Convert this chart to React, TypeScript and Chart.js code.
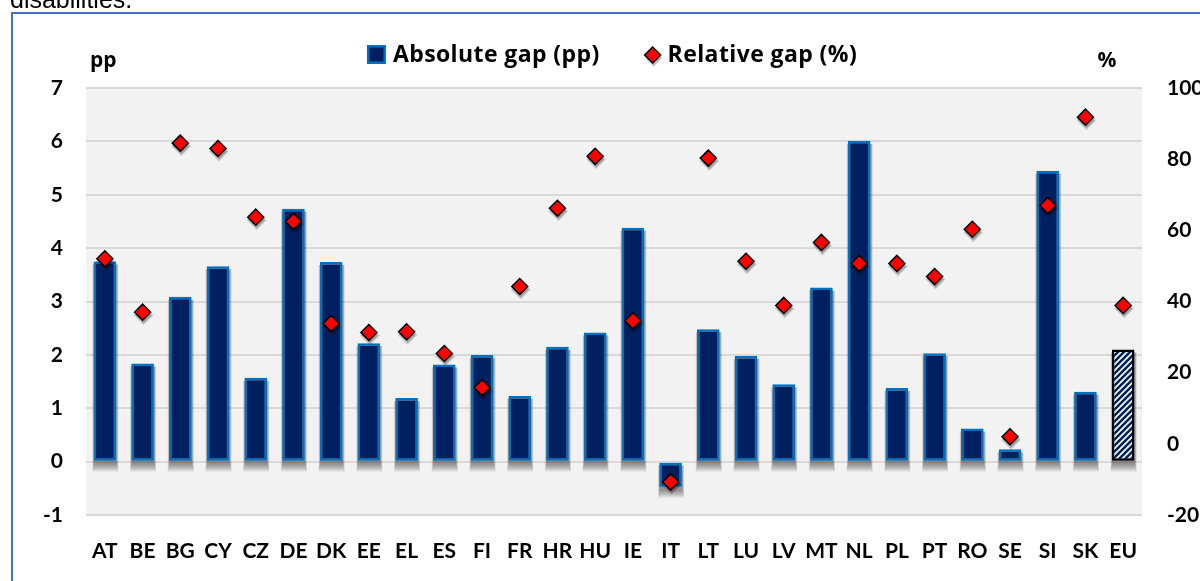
import React, { useEffect, useRef } from 'react';
import { Chart, registerables } from 'chart.js';

Chart.register(...registerables);

const categories = ['AT', 'BE', 'BG', 'CY', 'CZ', 'DE', 'DK', 'EE', 'EL', 'ES', 'FI', 'FR', 'HR', 'HU', 'IE', 'IT', 'LT', 'LU', 'LV', 'MT', 'NL', 'PL', 'PT', 'RO', 'SE', 'SI', 'SK', 'EU'];
const absoluteGap = [3.75, 1.84, 3.09, 3.66, 1.57, 4.74, 3.74, 2.22, 1.19, 1.82, 2.0, 1.23, 2.15, 2.42, 4.38, -0.47, 2.48, 1.98, 1.45, 3.26, 6.01, 1.38, 2.03, 0.62, 0.23, 5.45, 1.31, 2.1];
const relativeGap = [52.0, 37.0, 84.5, 83.0, 63.7, 62.5, 33.8, 31.3, 31.5, 25.4, 15.8, 44.2, 66.2, 80.8, 34.6, -10.7, 80.3, 51.3, 38.9, 56.6, 50.7, 50.7, 47.0, 60.3, 2.0, 67.0, 91.8, 38.9];
const leftRange = [-1, 7];
const rightRange = [-20, 100];
const seriesNames = ['Absolute gap (pp)', 'Relative gap (%)'];

const NAVY = '#002060';
const BLUE = '#0070C0';
const FONT = 'Lato, "Open Sans", sans-serif';
const LEGEND_FONT = '"Open Sans", Lato, sans-serif';

function makeHatch(): CanvasPattern | string {
  const c = document.createElement('canvas');
  c.width = 6;
  c.height = 6;
  const g = c.getContext('2d');
  if (!g) return NAVY;
  g.fillStyle = '#ffffff';
  g.fillRect(0, 0, 6, 6);
  g.strokeStyle = NAVY;
  g.lineWidth = 2.6;
  g.beginPath();
  g.moveTo(-1, 7); g.lineTo(7, -1);
  g.moveTo(-4, 4); g.lineTo(4, -4);
  g.moveTo(2, 10); g.lineTo(10, 2);
  g.stroke();
  return g.createPattern(c, 'repeat') || NAVY;
}

function diamond(ctx: CanvasRenderingContext2D, x: number, y: number, r: number) {
  ctx.beginPath();
  ctx.moveTo(x, y - r);
  ctx.lineTo(x + r, y);
  ctx.lineTo(x, y + r);
  ctx.lineTo(x - r, y);
  ctx.closePath();
}

const decorPlugin = {
  id: 'decor',
  beforeDraw(chart: any) {
    const { ctx, chartArea } = chart;
    ctx.save();
    ctx.fillStyle = '#ffffff';
    ctx.fillRect(0, 0, chart.width, chart.height);
    ctx.fillStyle = '#F2F2F2';
    ctx.fillRect(chartArea.left, chartArea.top, chartArea.right - chartArea.left, chartArea.bottom - chartArea.top);
    ctx.restore();
  },
  beforeDatasetDraw(chart: any, args: any) {
    const { ctx } = chart;
    ctx.save();
    if (args.index === 0) {
      const meta = chart.getDatasetMeta(0);
      meta.data.forEach((bar: any) => {
        const w = bar.width;
        const top = Math.min(bar.y, bar.base);
        const h = Math.abs(bar.base - bar.y);
        for (let k = 0; k <= 5; k++) {
          ctx.fillStyle = 'rgba(0,0,0,0.08)';
          const ex = k * 0.35;
          ctx.fillRect(bar.x - w / 2 + 0.5 - ex, top + 3, w + 2 * ex, h + 1 + k * 1.4);
        }
      });
    } else {
      const meta = chart.getDatasetMeta(args.index);
      meta.data.forEach((pt: any) => {
        for (let k = 0; k <= 4; k++) {
          ctx.fillStyle = 'rgba(0,0,0,0.09)';
          diamond(ctx, pt.x + 1, pt.y + 3, 7 + k * 0.8);
          ctx.fill();
        }
      });
    }
    ctx.restore();
  },
  afterDraw(chart: any) {
    const { ctx, chartArea } = chart;
    ctx.save();
    ctx.fillStyle = '#000';
    ctx.textBaseline = 'middle';
    ctx.font = `bold 21px ${LEGEND_FONT}`;
    ctx.textAlign = 'left';
    ctx.fillText('pp', chartArea.left + 4, 61);
    ctx.textAlign = 'center';
    ctx.fillText('%', chartArea.right - 35, 61);

    // legend
    const cy = 55;
    ctx.font = `bold 23px ${LEGEND_FONT}`;
    (ctx as any).letterSpacing = '0.4px';
    ctx.textAlign = 'left';
    const t1 = seriesNames[0];
    const t2 = seriesNames[1];
    const w1 = ctx.measureText(t1).width;
    const w2 = ctx.measureText(t2).width;
    const total = 19 + 7 + w1 + 45 + 16 + 7 + w2;
    let x = (chartArea.left + chartArea.right) / 2 - total / 2 - 2;
    ctx.fillStyle = BLUE;
    ctx.fillRect(x, cy - 10, 19, 19);
    ctx.fillStyle = NAVY;
    ctx.fillRect(x + 2.5, cy - 7.5, 14, 14);
    x += 19 + 7;
    ctx.fillStyle = '#000';
    ctx.fillText(t1, x, cy);
    x += w1 + 45 + 8;
    for (let k = 0; k <= 3; k++) {
      ctx.fillStyle = 'rgba(0,0,0,0.09)';
      diamond(ctx, x + 1, cy + 3, 7 + k * 0.8);
      ctx.fill();
    }
    diamond(ctx, x, cy, 8);
    ctx.fillStyle = '#FF0000';
    ctx.fill();
    ctx.lineWidth = 1.5;
    ctx.strokeStyle = '#000';
    ctx.stroke();
    x += 8 + 7;
    ctx.fillStyle = '#000';
    ctx.fillText(t2, x, cy);
    ctx.restore();
  },
};

export default function App() {
  const ref = useRef<HTMLCanvasElement | null>(null);

  useEffect(() => {
    if (!ref.current) return;
    const hatch = makeHatch();
    const n = categories.length;
    const bg = categories.map((_, i) => (i === n - 1 ? hatch : NAVY));
    const bc = categories.map((_, i) => (i === n - 1 ? '#000000' : BLUE));
    const chart = new Chart(ref.current, {
      type: 'bar',
      data: {
        labels: categories,
        datasets: [
          {
            type: 'bar',
            label: seriesNames[0],
            data: absoluteGap,
            yAxisID: 'y',
            backgroundColor: bg as any,
            borderColor: bc,
            borderWidth: 2.5,
            borderSkipped: false,
            barPercentage: 0.6,
            categoryPercentage: 1,
            order: 2,
          },
          {
            type: 'line',
            label: seriesNames[1],
            data: relativeGap,
            yAxisID: 'y2',
            showLine: false,
            pointStyle: 'rectRot',
            pointRadius: 8,
            pointBackgroundColor: '#FF0000',
            pointBorderColor: '#000000',
            pointBorderWidth: 1.5,
            order: 1,
          } as any,
        ],
      },
      options: {
        responsive: false,
        animation: false,
        layout: { padding: { top: 88, left: 0, right: 0, bottom: 0 } },
        plugins: {
          legend: { display: false },
          tooltip: { enabled: false },
          title: { display: false },
        },
        scales: {
          x: {
            offset: true,
            grid: { display: false },
            border: { display: false },
            ticks: { color: '#000', font: { family: FONT, size: 21, weight: 'bold' }, padding: 16, maxRotation: 0, autoSkip: false },
            afterFit: (s: any) => { s.height = 66; },
          },
          y: {
            position: 'left',
            min: leftRange[0],
            max: leftRange[1],
            ticks: { stepSize: 1, color: '#000', font: { family: FONT, size: 21, weight: 'bold' }, padding: 23 },
            grid: { color: '#D9D9D9', lineWidth: 2, drawTicks: false },
            border: { display: false },
            afterFit: (s: any) => { s.width = 86; },
          },
          y2: {
            position: 'right',
            min: rightRange[0],
            max: rightRange[1],
            ticks: { stepSize: 20, color: '#000', font: { family: FONT, size: 21, weight: 'bold' }, padding: 25 },
            grid: { display: false, drawTicks: false },
            border: { display: false },
            afterFit: (s: any) => { s.width = 58; },
          },
        },
      } as any,
      plugins: [decorPlugin],
    });
    return () => chart.destroy();
  }, []);

  return (
    <div style={{ position: 'fixed', left: 0, top: 0, width: 1200, height: 581, overflow: 'hidden', background: '#fff' }}>
      <canvas ref={ref} width={1200} height={581} style={{ position: 'absolute', left: 0, top: 0, width: 1200, height: 581 }} />
      <div style={{ position: 'absolute', left: 10, top: -13, fontFamily: '"Liberation Sans", Arial, sans-serif', fontSize: 25, lineHeight: '25px', color: '#000', whiteSpace: 'nowrap' }}>
        disabilities.
      </div>
      <div style={{ position: 'absolute', left: 11, top: 12, width: 1220, height: 620, border: '2px solid #4472C4', boxSizing: 'border-box', pointerEvents: 'none' }} />
    </div>
  );
}
